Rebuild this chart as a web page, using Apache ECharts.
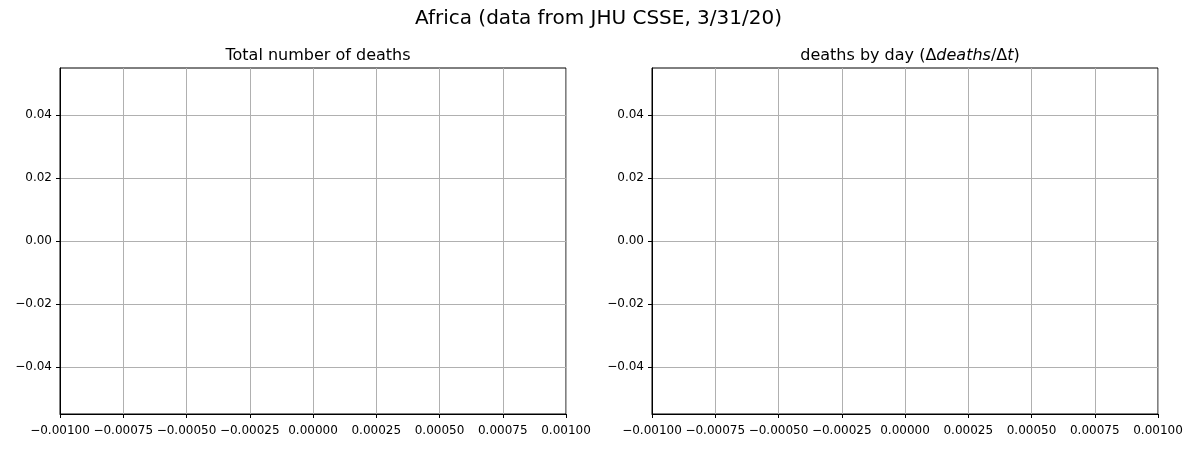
<!DOCTYPE html>
<html>
<head>
<meta charset="utf-8">
<script src="https://cdn.jsdelivr.net/npm/echarts@6/dist/echarts.min.js"></script>
<style>
html,body{margin:0;padding:0;background:#fff;}
#chart{width:1197px;height:450px;}
</style>
</head>
<body>
<div id="chart"></div>
<script>
// Data (the reference shows empty axes: no data points)
const totalDeaths = [];
const deathsByDay = [];
const xTicks = [-0.001, -0.00075, -0.0005, -0.00025, 0, 0.00025, 0.0005, 0.00075, 0.001];
const yTicks = [-0.04, -0.02, 0, 0.02, 0.04];
const xRange = [-0.001, 0.001];
const yRange = [-0.055, 0.055];

const FONT = 'DejaVu Sans';
const fmt = (d) => (v) => (Math.abs(v) < 1e-12 ? 0 : v).toFixed(d).replace('-', '\u2212');

function xAxis(idx) {
  return {
    type: 'value', gridIndex: idx, min: xRange[0], max: xRange[1],
    axisLine: { show: true, onZero: false, lineStyle: { color: '#000', width: 1 } },
    axisTick: { show: true, length: 4, customValues: xTicks, lineStyle: { color: '#000' } },
    axisLabel: { show: true, customValues: xTicks, formatter: fmt(5), color: '#000', fontFamily: FONT, fontSize: 12, margin: 11, showMinLabel: true, showMaxLabel: true, hideOverlap: false },
    splitLine: { show: true, lineStyle: { color: '#b0b0b0', width: 1 } }
  };
}
function yAxis(idx) {
  return {
    type: 'value', gridIndex: idx, min: yRange[0], max: yRange[1],
    axisLine: { show: true, onZero: false, lineStyle: { color: '#000', width: 1 } },
    axisTick: { show: true, length: 4, customValues: yTicks, lineStyle: { color: '#000' } },
    axisLabel: { show: true, customValues: yTicks, formatter: fmt(2), color: '#000', fontFamily: FONT, fontSize: 12, margin: 8 },
    splitLine: { show: true, lineStyle: { color: '#b0b0b0', width: 1 } }
  };
}

const chart = echarts.init(document.getElementById('chart'), null, { renderer: 'canvas' });
chart.setOption({
  animation: false,
  backgroundColor: '#fff',
  title: [
    { text: 'Africa (data from JHU CSSE, 3/31/20)', left: 'center', top: 4,
      textStyle: { fontFamily: FONT, fontSize: 20, fontWeight: 'normal', color: '#000' } },
    { text: 'Total number of deaths', left: 313, textAlign: 'center', top: 43,
      textStyle: { fontFamily: FONT, fontSize: 16, fontWeight: 'normal', color: '#000' } },
    { text: '{n|deaths by day (\u0394}{i|deaths}{n|/\u0394}{i|t}{n|)}', left: 905, textAlign: 'center', top: 43,
      textStyle: { fontFamily: FONT, fontSize: 16, fontWeight: 'normal', color: '#000',
        rich: {
          n: { fontFamily: FONT, fontSize: 16, color: '#000' },
          i: { fontFamily: FONT, fontSize: 16, fontStyle: 'italic', color: '#000' }
        } } }
  ],
  grid: [
    { left: 60, top: 68, width: 506, height: 346, show: true, borderColor: '#000', borderWidth: 1, backgroundColor: 'transparent' },
    { left: 652, top: 68, width: 506, height: 346, show: true, borderColor: '#000', borderWidth: 1, backgroundColor: 'transparent' }
  ],
  xAxis: [xAxis(0), xAxis(1)],
  yAxis: [yAxis(0), yAxis(1)],
  series: [
    { type: 'line', xAxisIndex: 0, yAxisIndex: 0, data: totalDeaths, color: '#1f77b4' },
    { type: 'line', xAxisIndex: 1, yAxisIndex: 1, data: deathsByDay, color: '#1f77b4' }
  ]
});
</script>
</body>
</html>
